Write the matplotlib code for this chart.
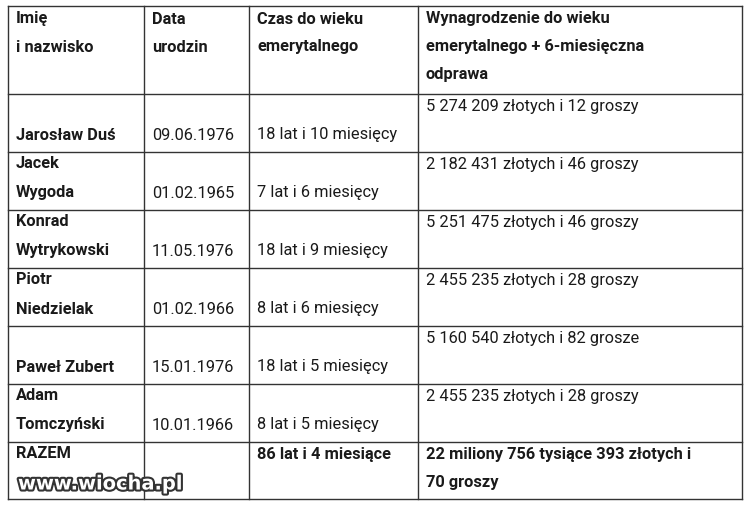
import matplotlib
matplotlib.use("Agg")
import matplotlib.pyplot as plt
import matplotlib.patheffects as pe

plt.rcParams['font.family'] = ['Roboto', 'DejaVu Sans']

header = [["Imię", "i nazwisko"], ["Data", "urodzin"], ["Czas do wieku", "emerytalnego"],
          ["Wynagrodzenie do wieku", "emerytalnego + 6-miesięczna", "odprawa"]]
names = [["", "Jarosław Duś"], ["Jacek", "Wygoda"], ["Konrad", "Wytrykowski"],
         ["Piotr", "Niedzielak"], ["", "Paweł Zubert"], ["Adam", "Tomczyński"]]
dates = ["09.06.1976", "01.02.1965", "11.05.1976", "01.02.1966", "15.01.1976", "10.01.1966"]
times = ["18 lat i 10 miesięcy", "7 lat i 6 miesięcy", "18 lat i 9 miesięcy",
         "8 lat i 6 miesięcy", "18 lat i 5 miesięcy", "8 lat i 5 miesięcy"]
money = ["5 274 209 złotych i 12 groszy", "2 182 431 złotych i 46 groszy",
         "5 251 475 złotych i 46 groszy", "2 455 235 złotych i 28 groszy",
         "5 160 540 złotych i 82 grosze", "2 455 235 złotych i 28 groszy"]
total = ["RAZEM", "", "86 lat i 4 miesiące", ["22 miliony 756 tysiące 393 złotych i", "70 groszy"]]

xs = [8, 144, 249, 418, 742]
ys = [6, 94, 152, 210, 268, 326, 384, 442, 499]

fig = plt.figure(figsize=(7.5, 5.07), dpi=100)
ax = fig.add_axes([0, 0, 1, 1])
ax.set_xlim(0, 750); ax.set_ylim(507, 0); ax.axis('off')

for x in xs:
    ax.plot([x, x], [ys[0], ys[-1]], color='#333333', lw=1)
for y in ys:
    ax.plot([xs[0], xs[-1]], [y, y], color='#333333', lw=1)

fs = 11.8
pad = 8
kw = dict(va='center', ha='left', fontsize=fs, color='#1a1a1a')
for c, lines in enumerate(header):
    for i, t in enumerate(lines):
        ax.text(xs[c] + pad, 19 + 28 * i, t, fontweight='bold', **kw)

for r in range(6):
    top = ys[r + 1]
    l1, l2 = top + 12, top + 41
    if names[r][0]:
        ax.text(xs[0] + pad, l1, names[r][0], fontweight='bold', **kw)
    ax.text(xs[0] + pad, l2, names[r][1], fontweight='bold', **kw)
    ax.text(xs[1] + pad, l2, dates[r], **kw)
    ax.text(xs[2] + pad, l2, times[r], **kw)
    ax.text(xs[3] + pad, l1, money[r], **kw)

top = ys[7]
ax.text(xs[0] + pad, top + 12, total[0], fontweight='bold', **kw)
ax.text(xs[2] + pad, top + 12, total[2], fontweight='bold', **kw)
ax.text(xs[3] + pad, top + 12, total[3][0], fontweight='bold', **kw)
ax.text(xs[3] + pad, top + 41, total[3][1], fontweight='bold', **kw)

ax.text(18, 484, "www.wiocha.pl", fontsize=14, fontweight='bold', color='white',
        va='center', ha='left', family=['DejaVu Sans'],
        path_effects=[pe.withStroke(linewidth=3, foreground='#333333')])

fig.savefig("out.png", dpi=100)
